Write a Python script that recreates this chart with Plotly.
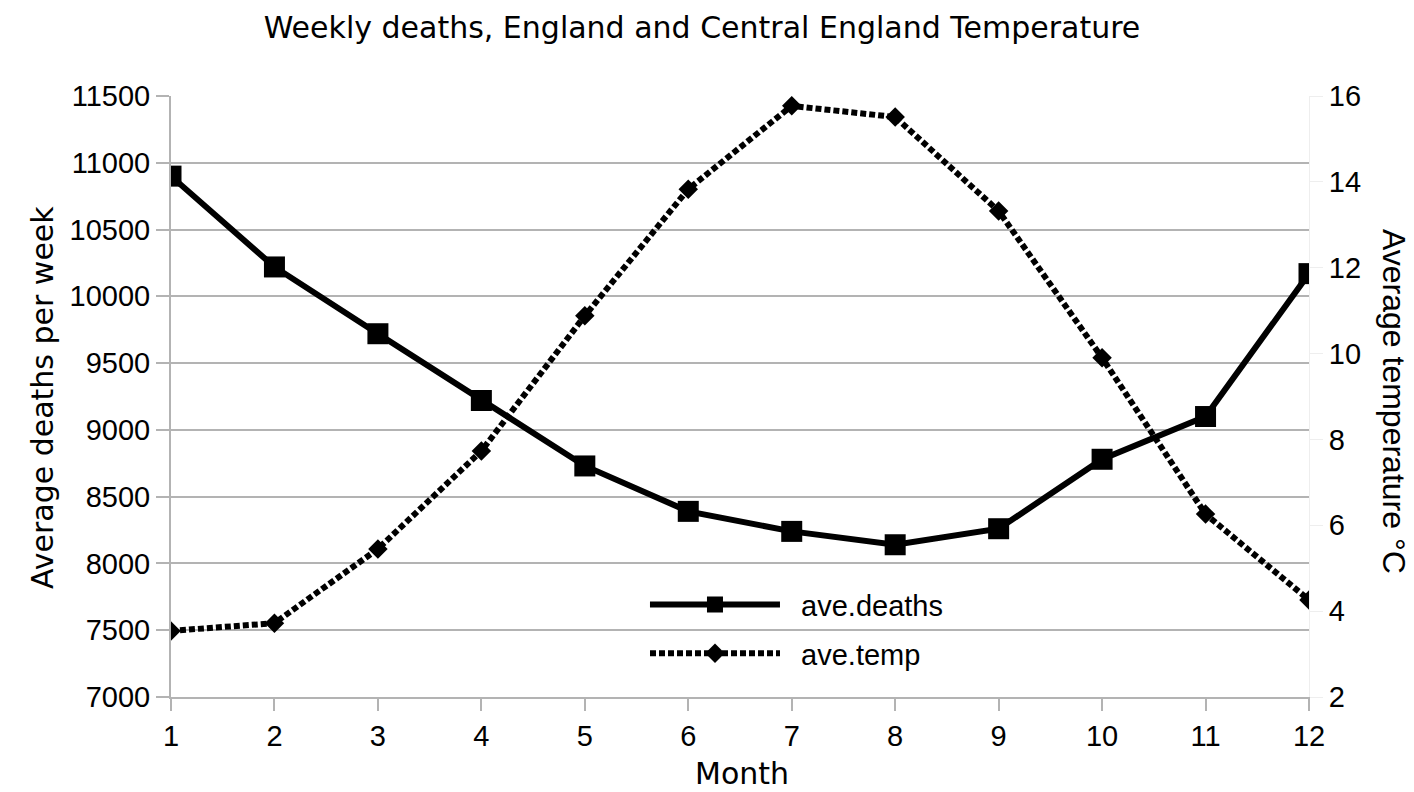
import plotly.graph_objects as go

months = [1, 2, 3, 4, 5, 6, 7, 8, 9, 10, 11, 12]
ave_deaths = [10900, 10220, 9720, 9220, 8730, 8390, 8240, 8140, 8260, 8780, 9100, 10170]
ave_temp = [3.54, 3.72, 5.45, 7.73, 10.88, 13.83, 15.77, 15.51, 13.32, 9.90, 6.26, 4.26]

GRID = "#b3b3b3"
SANS = "Liberation Sans"
DJ = "DejaVu Sans"
NB = "\u00a0\u00a0"

fig = go.Figure()
fig.add_trace(go.Scatter(
    x=months, y=ave_deaths, name=NB + "ave.deaths", mode="lines+markers",
    line=dict(color="black", width=6),
    marker=dict(symbol="square", size=21, color="black"),
    yaxis="y", legendgroup="a",
))
fig.add_trace(go.Scatter(
    x=months, y=ave_temp, name=NB + "ave.temp", mode="lines+markers",
    line=dict(color="black", width=6, dash="6px,3px"),
    marker=dict(symbol="diamond", size=15, color="black"),
    yaxis="y2", legendgroup="b",
))

fig.update_layout(
    width=1406, height=784,
    margin=dict(l=163, r=105, t=88, b=95),
    paper_bgcolor="white", plot_bgcolor="white",
    title=dict(text="Weekly deaths, England and Central England Temperature",
               x=0.4936, xanchor="center", y=0.9745, yanchor="middle",
               font=dict(family=DJ, size=30, color="black")),
    xaxis=dict(range=[1, 12], tickmode="array", tickvals=months,
               showline=True, linecolor=GRID, linewidth=2,
               ticks="outside", ticklen=12, tickwidth=2, tickcolor=GRID,
               showgrid=False, zeroline=False,
               tickfont=dict(family=SANS, size=29, color="black")),
    yaxis=dict(range=[7000, 11500], dtick=500, tick0=7000, tickformat="d",
               showline=True, linecolor=GRID, linewidth=2,
               ticks="outside", ticklen=13, tickwidth=2, tickcolor=GRID,
               showgrid=True, gridcolor=GRID, gridwidth=2, zeroline=False,
               tickfont=dict(family=SANS, size=29, color="black")),
    yaxis2=dict(range=[2, 16], dtick=2, tick0=2, overlaying="y", side="right",
                showline=True, linecolor="#eeeeee", linewidth=1,
                ticks="outside", ticklen=13, tickwidth=1, tickcolor="#eeeeee",
                showgrid=False, zeroline=False,
                tickfont=dict(family=SANS, size=29, color="black")),
    legend=dict(x=0.4165, y=0.196, xanchor="left", yanchor="top",
                bgcolor="rgba(0,0,0,0)", itemwidth=130, tracegroupgap=8,
                font=dict(family=SANS, size=29, color="black")),
    showlegend=True,
    annotations=[
        dict(text="Average deaths per week", xref="paper", yref="paper",
             x=-0.1134, y=0.499, textangle=-90, showarrow=False,
             xanchor="center", yanchor="middle",
             font=dict(family=DJ, size=30, color="black")),
        dict(text="Average temperature °C", xref="paper", yref="paper",
             x=1.0747, y=0.4925, textangle=90, showarrow=False,
             xanchor="center", yanchor="middle",
             font=dict(family=SANS, size=32, color="black")),
        dict(text="Month", xref="paper", yref="paper",
             x=0.5018, y=-0.128, showarrow=False,
             xanchor="center", yanchor="middle",
             font=dict(family=DJ, size=30, color="black")),
    ],
)

fig.write_html("out.html")
